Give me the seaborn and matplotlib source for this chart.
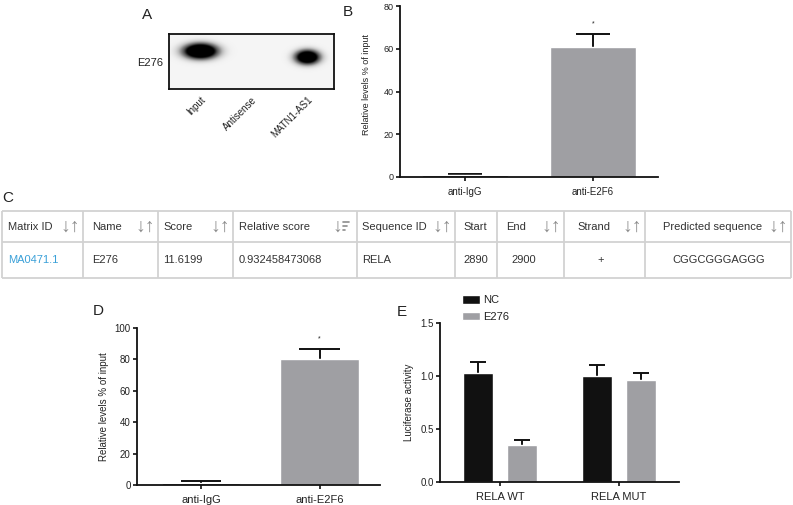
import numpy as np
import pandas as pd
import matplotlib
matplotlib.use('Agg')
import matplotlib.pyplot as plt
from matplotlib.ticker import FormatStrFormatter
import seaborn as sns

W, H = 793, 505
BLACK = '#111111'
GRAY = '#9f9fa3'
TXT = '#222222'

# A: blot lanes
lanes = ['Input', 'Antisense', 'MATN1-AS1']
band_intensity = [1.0, 0.0, 0.9]
blot_target = 'E276'

# B: RIP, first experiment
b_groups = ['anti-IgG', 'anti-E2F6']
b_values = [1.0, 61.0]
b_errors = [0.2, 5.8]

# C: JASPAR hit
c_headers = ['Matrix ID', 'Name', 'Score', 'Relative score', 'Sequence ID',
             'Start', 'End', 'Strand', 'Predicted sequence']
c_row = ['MA0471.1', 'E276', '11.6199', '0.932458473068', 'RELA',
         '2890', '2900', '+', 'CGGCGGGAGGG']
c_sort = ['both', 'both', 'both', 'desc', 'both', '', 'both', 'both', 'both']

# D: RIP, second experiment
d_groups = ['anti-IgG', 'anti-E2F6']
d_values = [1.3, 80.3]
d_errors = [1.1, 6.5]

# E: luciferase
e_groups = ['RELA WT', 'RELA MUT']
e_series = ['NC', 'E276']
e_nc = [1.025, 1.003]
e_nc_err = [0.105, 0.10]
e_e276 = [0.35, 0.962]
e_e276_err = [0.05, 0.07]

sns.set_theme(style='ticks')
plt.rcParams['font.family'] = ['Liberation Sans', 'DejaVu Sans']
plt.rcParams['text.color'] = TXT

fig = plt.figure(figsize=(W / 100, H / 100), dpi=100)


def px_axes(left, top, right, bottom):
    return fig.add_axes([left / W, 1 - bottom / H, (right - left) / W, (bottom - top) / H])


def style_axes(ax, ysize, xsize):
    sns.despine(ax=ax)
    for s in ('left', 'bottom'):
        ax.spines[s].set_linewidth(1.3)
        ax.spines[s].set_color(BLACK)
    ax.tick_params(direction='out', length=3, width=1.2, color=BLACK, labelcolor=TXT, pad=1.5)
    ax.tick_params(axis='y', labelsize=ysize)
    ax.tick_params(axis='x', labelsize=xsize, pad=4)
    ax.set_xlabel('')


def add_errors(ax, errs, cap_w):
    # one-sided (upward) error bars, GraphPad style
    bars = [p for c in ax.containers for p in c]
    xs = np.array([p.get_x() + p.get_width() / 2 for p in bars])
    ys = np.array([p.get_height() for p in bars])
    tops = ys + np.asarray(errs)
    ax.vlines(xs, ys, tops, color=BLACK, lw=1.4, zorder=1)
    ax.hlines(tops, xs - cap_w / 2, xs + cap_w / 2, color=BLACK, lw=1.4, zorder=1)
    return xs, ys


def label(x, y, s):
    fig.text(x / W, 1 - y / H, s, fontsize=11, ha='center', va='center', color=TXT)


# ---- A: blot
axA = px_axes(169, 34, 334, 89)
ny, nx = 110, 330
yy, xx = np.mgrid[0:1:ny * 1j, 0:1:nx * 1j]
lane_x = [0.19, 0.5, 0.84]
band_y = [0.31, 0.4, 0.42]
band_w = [0.11, 0.08, 0.08]
band_h = [0.15, 0.12, 0.14]
dark = np.full((ny, nx), 0.08)
for xc, yc, sx, sy, amp in zip(lane_x, band_y, band_w, band_h, band_intensity):
    r2 = ((xx - xc) / sx) ** 2 + ((yy - yc) / sy) ** 2
    dark += 1.5 * amp * np.exp(-r2 ** 1.2)
axA.imshow(np.clip(dark, 0, 1), cmap='Greys', vmin=0, vmax=1,
           extent=(0, 1, 1, 0), aspect='auto', interpolation='bilinear')
for s in axA.spines.values():
    s.set_linewidth(1.3)
    s.set_color(BLACK)
    s.set_visible(True)
axA.set_xticks(lane_x)
axA.set_xticklabels(lanes, rotation=45, ha='right', rotation_mode='anchor', fontsize=7, color=TXT)
axA.set_yticks([0.51])
axA.set_yticklabels([blot_target], fontsize=8, color=TXT)
axA.tick_params(length=0, pad=4)
axA.grid(False)
label(147, 15, 'A')

# ---- B
axB = px_axes(400, 6, 658, 177)
dfB = pd.DataFrame({'group': b_groups, 'value': b_values})
sns.barplot(data=dfB, x='group', y='value', hue='group', palette=[BLACK, GRAY],
            width=0.67, legend=False, ax=axB, saturation=1, zorder=2)
xs, ys = add_errors(axB, b_errors, 0.26)
axB.text(xs[1], ys[1] + b_errors[1] + 3.0, '*', ha='center', va='bottom', fontsize=5)
axB.set_ylim(0, 80)
axB.set_yticks([0, 20, 40, 60, 80])
axB.set_xlim(-0.508, 1.508)
axB.set_ylabel('Relative levels % of input', fontsize=6.5, color=TXT)
axB.yaxis.set_label_coords(-0.112, 0.54)
style_axes(axB, 6.5, 7)
label(348, 12, 'B')

# ---- C: table
axC = fig.add_axes([0, 0, 1, 1], zorder=-1)
axC.set_xlim(0, W)
axC.set_ylim(H, 0)
axC.axis('off')
edges = [2, 83, 158, 233, 357, 455, 497, 564, 645, 791]
head_dx = [6, 9, 5, 6, 5, 8, 9, 13, 18]
val_dx = [6, 9, 5, 6, 5, 8, 14, 33, 27]
rows_y = [211, 242, 278]
line_kw = dict(color='#d2d2d2', lw=1.3, solid_capstyle='butt')
for y in rows_y:
    axC.plot([edges[0], edges[-1]], [y, y], **line_kw)
for x in edges:
    axC.plot([x, x], [rows_y[0], rows_y[-1]], **line_kw)
hy = (rows_y[0] + rows_y[1]) / 2
vy = (rows_y[1] + rows_y[2]) / 2
arrow_kw = dict(fontsize=14, va='center', color='#8c8c8c', fontweight='bold')
for i, (hd, val, srt) in enumerate(zip(c_headers, c_row, c_sort)):
    axC.text(edges[i] + head_dx[i], hy, hd, fontsize=8, va='center', ha='left', color='#333333')
    axC.text(edges[i] + val_dx[i], vy, val, fontsize=8, va='center', ha='left',
             color='#3aa0d8' if i == 0 else '#333333')
    right = edges[i + 1]
    if srt == 'both':
        axC.text(right - 3, hy + 1, '↓↑', ha='right', **arrow_kw)
    elif srt == 'desc':
        axC.text(right - 15, hy + 1, '↓', ha='right', **arrow_kw)
        for k, ln in enumerate([6, 4, 2]):
            axC.plot([right - 14, right - 14 + ln], [hy - 5 + 4 * k] * 2, color='#8c8c8c', lw=1.2)
label(8, 198, 'C')

# ---- D
axD = px_axes(137, 328, 380, 485)
dfD = pd.DataFrame({'group': d_groups, 'value': d_values})
sns.barplot(data=dfD, x='group', y='value', hue='group', palette=[BLACK, GRAY],
            width=0.66, legend=False, ax=axD, saturation=1, zorder=2)
xs, ys = add_errors(axD, d_errors, 0.34)
axD.text(xs[1], ys[1] + d_errors[1] + 4.0, '*', ha='center', va='bottom', fontsize=5)
axD.set_ylim(0, 100)
axD.set_yticks([0, 20, 40, 60, 80, 100])
axD.set_xlim(-0.54, 1.51)
axD.set_ylabel('Relative levels % of input', fontsize=7, color=TXT)
axD.yaxis.set_label_coords(-0.115, 0.5)
style_axes(axD, 7, 8)
label(98, 311, 'D')

# ---- E
axE = px_axes(440, 323, 679, 482)
dfE = pd.DataFrame({
    'group': e_groups * 2,
    'series': [e_series[0]] * 2 + [e_series[1]] * 2,
    'value': e_nc + e_e276,
})
sns.barplot(data=dfE, x='group', y='value', hue='series', palette=[BLACK, GRAY],
            width=0.74, gap=0.32, ax=axE, saturation=1, zorder=2)
add_errors(axE, e_nc_err + e_e276_err, 0.13)
axE.set_ylim(0, 1.5)
axE.set_yticks([0, 0.5, 1.0, 1.5])
axE.yaxis.set_major_formatter(FormatStrFormatter('%.1f'))
axE.set_xlim(-0.504, 1.504)
axE.set_ylabel('Luciferase activity', fontsize=7, color=TXT)
axE.yaxis.set_label_coords(-0.109, 0.5)
style_axes(axE, 7, 8)
handles, labels = axE.get_legend_handles_labels()
axE.legend(handles, labels, loc='upper left', bbox_to_anchor=(462 / W, 1 - 295 / H),
           bbox_transform=fig.transFigure, frameon=False, fontsize=8, borderpad=0,
           borderaxespad=0, handlelength=1.6, handleheight=0.8, handletextpad=0.3,
           labelspacing=0.6)
label(402, 312, 'E')

fig.savefig('out.png', dpi=100)
